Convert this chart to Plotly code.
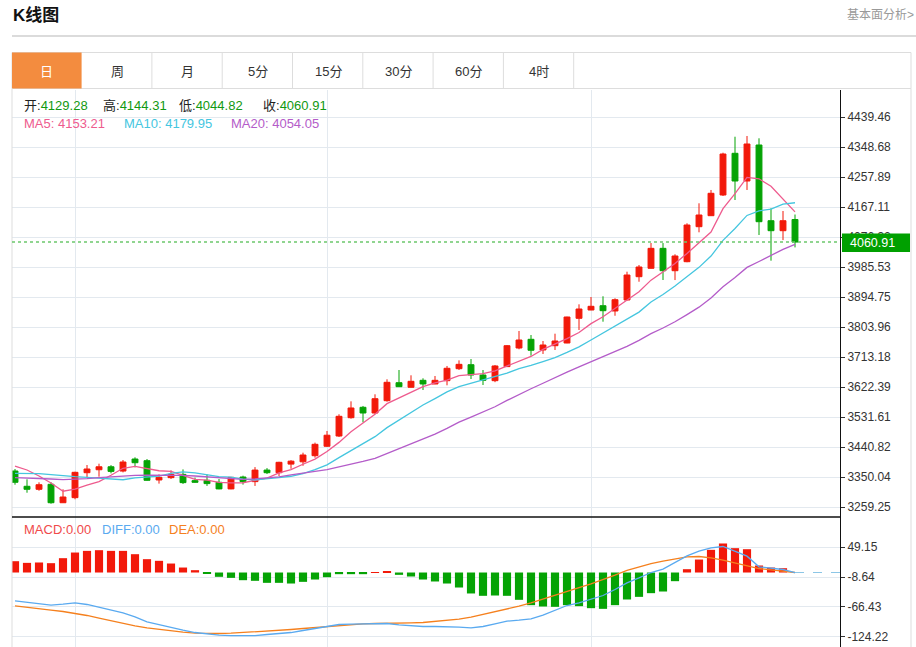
import plotly.graph_objects as go
import pandas as pd

W, H = 916, 647

# ---------------- data ----------------
days = list(range(66))
opens = [3368.2, 3321.9, 3312.8, 3327.9, 3272.2, 3287.5, 3363.0, 3372.0, 3381.0, 3368.0,
         3404.4, 3399.4, 3341.0, 3348.0, 3358.0, 3339.0, 3340.0, 3334.0, 3314.0, 3350.0,
         3336.0, 3371.0, 3363.0, 3389.0, 3396.0, 3414.5, 3443.0, 3474.0, 3529.5, 3561.0,
         3543.7, 3581.0, 3635.4, 3621.5, 3642.6, 3631.5, 3641.5, 3677.8, 3689.9, 3658.7,
         3641.5, 3684.0, 3740.4, 3766.7, 3734.4, 3747.4, 3755.5, 3830.3, 3855.4, 3868.4,
         3852.4, 3885.7, 3956.2, 3981.6, 4042.0, 3974.3, 4001.6, 4107.5, 4140.8, 4203.4,
         4329.6, 4245.8, 4354.7, 4125.6, 4095.4, 4129.28]
highs = [3374.2, 3343.0, 3334.0, 3334.0, 3312.8, 3366.0, 3386.3, 3390.3, 3386.0, 3401.4,
         3409.6, 3404.4, 3358.0, 3370.0, 3373.0, 3348.0, 3358.0, 3344.0, 3350.0, 3354.0,
         3380.0, 3377.0, 3396.0, 3401.0, 3423.6, 3454.0, 3489.3, 3539.8, 3579.0, 3565.0,
         3600.3, 3645.7, 3673.8, 3657.8, 3648.7, 3655.7, 3686.0, 3703.0, 3707.0, 3673.8,
         3689.0, 3749.5, 3791.9, 3779.7, 3761.6, 3783.7, 3835.0, 3872.6, 3894.7, 3896.9,
         3890.8, 3971.3, 3991.6, 4058.2, 4058.0, 4024.0, 4117.8, 4178.3, 4218.6, 4331.4,
         4379.8, 4382.0, 4375.0, 4163.2, 4155.0, 4144.31]
lows = [3326.7, 3302.5, 3308.5, 3269.2, 3272.0, 3282.7, 3349.0, 3351.0, 3361.0, 3364.0,
        3379.4, 3339.0, 3330.0, 3344.0, 3329.0, 3333.0, 3323.0, 3313.0, 3313.0, 3327.0,
        3323.0, 3359.0, 3353.0, 3375.0, 3384.0, 3408.5, 3441.0, 3471.0, 3526.5, 3515.6,
        3541.6, 3578.0, 3623.0, 3621.0, 3613.3, 3631.0, 3627.5, 3673.8, 3646.6, 3628.4,
        3637.0, 3684.0, 3736.5, 3717.1, 3722.3, 3734.4, 3755.0, 3794.9, 3855.0, 3820.0,
        3838.0, 3885.0, 3941.0, 3981.0, 3946.2, 3946.0, 4000.0, 4090.5, 4140.0, 4200.4,
        4188.3, 4218.6, 4082.4, 4004.6, 4067.0, 4044.82]
closes = [3334.0, 3312.8, 3326.7, 3272.2, 3289.5, 3364.2, 3374.2, 3381.0, 3367.0, 3395.4,
          3393.2, 3340.0, 3349.0, 3358.0, 3333.0, 3334.0, 3330.0, 3314.0, 3349.0, 3336.0,
          3371.0, 3363.0, 3394.5, 3398.0, 3416.6, 3449.0, 3476.5, 3533.7, 3558.9, 3543.7,
          3587.0, 3636.6, 3623.3, 3639.6, 3631.5, 3642.6, 3679.0, 3691.0, 3658.7, 3642.6,
          3686.0, 3747.4, 3764.6, 3733.5, 3749.5, 3761.6, 3834.2, 3858.4, 3866.6, 3853.3,
          3886.6, 3961.3, 3985.5, 4042.0, 3974.3, 4018.8, 4112.6, 4142.9, 4208.6, 4327.5,
          4245.8, 4357.8, 4122.6, 4095.4, 4125.6, 4060.91]

ma5_head = [3383.3, 3371.2, 3353.0, 3331.8]
ma10_head = [3361.2, 3361.2, 3360.2, 3357.0, 3353.0, 3351.0, 3349.0, 3346.0, 3343.0]
ma20_head = [3347.9, 3347.0, 3346.0, 3344.0, 3341.8, 3343.0, 3344.9, 3347.9, 3351.0, 3353.0,
             3355.1, 3356.0, 3356.0, 3356.0, 3355.1, 3353.0, 3350.0, 3348.0, 3346.0]

macd_hist = [21.8, 18.6, 19.3, 18.0, 27.6, 38.5, 41.7, 43.0, 41.7, 41.7,
             35.3, 25.7, 22.5, 17.3, 9.6, 4.5, -2.6, -8.3, -10.3, -14.8,
             -16.0, -19.9, -19.9, -21.2, -18.0, -13.5, -9.0, -3.2, -3.2, -3.2,
             0.6, 1.9, -4.5, -7.7, -13.5, -17.3, -21.2, -28.9, -40.4, -44.9,
             -44.3, -44.9, -52.6, -62.9, -65.5, -66.1, -62.9, -64.8, -68.7, -70.0,
             -62.9, -52.0, -46.9, -39.8, -36.6, -16.7, 6.4, 25.0, 43.7, 55.9,
             46.9, 44.9, 13.5, 9.6, 8.3, 0.0]
diff_line = [-54.6, -57.8, -60.4, -62.9, -61.0, -58.4, -61.6, -67.4, -72.6, -77.7,
             -85.4, -95.0, -100.2, -106.0, -111.1, -115.6, -118.8, -120.7, -121.4, -122.0,
             -121.4, -119.4, -117.5, -115.6, -111.7, -107.9, -103.4, -100.2, -99.5, -98.9,
             -97.6, -98.2, -100.8, -102.7, -104.0, -104.0, -104.0, -105.3, -106.6, -104.0,
             -98.9, -93.7, -91.8, -89.2, -82.2, -73.2, -63.6, -58.4, -52.0, -44.3,
             -32.7, -19.9, -10.3, 0.0, 6.4, 18.6, 32.1, 41.1, 47.5, 50.1,
             41.1, 31.5, 10.9, 7.7, 5.8, 0.0]
dea_line = [-64.2, -67.4, -70.0, -72.6, -75.1, -78.3, -82.8, -88.0, -93.1, -98.2,
            -102.7, -106.6, -109.8, -113.0, -114.9, -116.9, -117.5, -117.5, -116.9, -115.6,
            -114.9, -113.6, -111.7, -109.8, -107.9, -106.0, -103.4, -101.4, -100.2, -98.9,
            -98.2, -98.2, -97.6, -97.0, -96.3, -94.4, -92.5, -89.9, -86.0, -80.9,
            -75.8, -70.6, -64.8, -58.4, -51.4, -43.7, -36.6, -28.9, -21.8, -14.1,
            -5.1, 3.9, 10.9, 17.3, 21.8, 26.3, 30.2, 30.8, 28.3, 23.8,
            18.0, 12.2, 7.7, 5.1, 2.6, 0.0]

price_ticks = [4439.46, 4348.68, 4257.89, 4167.11, 4076.32, 3985.53, 3894.75,
               3803.96, 3713.18, 3622.39, 3531.61, 3440.82, 3350.04, 3259.25]
macd_ticks = [49.15, -8.64, -66.43, -124.22]
month_marks = [5, 26, 48]

tabs = ["日", "周", "月", "5分", "15分", "30分", "60分", "4时"]
ma_labels = ["4153.21", "4179.95", "4054.05"]
macd_labels = ["0.00", "0.00", "0.00"]

# ---------------- derived ----------------
s = pd.Series(closes)


def moving(n, head):
    vals = s.rolling(n).mean().tolist()
    vals[:len(head)] = head
    return vals


ma5 = moving(5, ma5_head)
ma10 = moving(10, ma10_head)
ma20 = moving(20, ma20_head)

# ---------------- styling ----------------
RED = "#f2190a"
GREEN = "#05a305"
C_MA5 = "#ee5b8e"
C_MA10 = "#45c6df"
C_MA20 = "#b45cc9"
C_DIFF = "#5aaaf0"
C_DEA = "#f5801e"
GRID = "#e3e9ef"
FONT = "Liberation Sans, Noto Sans CJK SC, sans-serif"


def px(X):
    return X / W


def py(Y):
    return 1 - Y / H


fig = go.Figure()
fig.add_trace(go.Candlestick(
    x=days, open=opens, high=highs, low=lows, close=closes,
    increasing=dict(line=dict(color=RED, width=1), fillcolor=RED),
    decreasing=dict(line=dict(color=GREEN, width=1), fillcolor=GREEN),
    whiskerwidth=0, hoverinfo="skip", xaxis="x", yaxis="y", showlegend=False))
for vals, col in [(ma5, C_MA5), (ma10, C_MA10), (ma20, C_MA20)]:
    fig.add_trace(go.Scatter(x=days, y=vals, mode="lines", line=dict(color=col, width=1.3),
                             hoverinfo="skip", xaxis="x", yaxis="y", showlegend=False))

fig.add_trace(go.Bar(x=days, y=macd_hist, width=0.68,
                     marker=dict(color=[RED if v >= 0 else GREEN for v in macd_hist], line=dict(width=0)),
                     hoverinfo="skip", xaxis="x2", yaxis="y2", showlegend=False))
fig.add_trace(go.Scatter(x=days, y=dea_line, mode="lines", line=dict(color=C_DEA, width=1.3),
                         hoverinfo="skip", xaxis="x2", yaxis="y2", showlegend=False))
fig.add_trace(go.Scatter(x=days, y=diff_line, mode="lines", line=dict(color=C_DIFF, width=1.3),
                         hoverinfo="skip", xaxis="x2", yaxis="y2", showlegend=False))

xdom = [px(12), px(840)]
xcommon = dict(domain=xdom, range=[-0.25, 68.75], showgrid=True, gridcolor=GRID, gridwidth=1,
               tickvals=month_marks, showticklabels=False, ticks="", zeroline=False,
               showline=False, fixedrange=True)
ycommon = dict(side="right", showgrid=True, gridcolor=GRID, gridwidth=1, showline=True,
               linecolor="#111111", linewidth=1, ticks="outside", ticklen=4, tickcolor="#333333",
               tickfont=dict(size=12, color="#333333", family=FONT), zeroline=False, fixedrange=True)

fig.update_layout(
    width=W, height=H,
    margin=dict(l=0, r=0, t=0, b=0, pad=0),
    paper_bgcolor="white", plot_bgcolor="white",
    font=dict(family=FONT),
    boxgap=0.3,
    xaxis=dict(**xcommon, anchor="y", rangeslider=dict(visible=False)),
    xaxis2=dict(**xcommon, anchor="y2", matches="x"),
    yaxis=dict(**ycommon, anchor="x", domain=[py(517), py(90)], range=[3228.98, 4521.17],
               tickvals=price_ticks, ticktext=[f"{v:.2f}" for v in price_ticks]),
    yaxis2=dict(**ycommon, anchor="x2", domain=[0, py(517)], range=[-143.5, 106.94],
                tickvals=macd_ticks, ticktext=[f"{v:.2f}" for v in macd_ticks]),
)

shapes = []
# title underline
shapes.append(dict(type="line", xref="paper", yref="paper", x0=px(12), x1=px(916), y0=py(36), y1=py(36),
                   line=dict(color="#cfcfcf", width=1.5)))
# tab bar
shapes.append(dict(type="rect", xref="paper", yref="paper", x0=px(12), x1=px(911), y0=py(88.5), y1=py(52.5),
                   line=dict(color="#dddddd", width=1)))
shapes.append(dict(type="rect", xref="paper", yref="paper", x0=px(12), x1=px(81.6), y0=py(88.5), y1=py(52.5),
                   fillcolor="#f38c3f", line=dict(width=0)))
for k in range(1, len(tabs)):
    xs = 81.6 + 70.3 * (k - 1) + 70.3
    shapes.append(dict(type="line", xref="paper", yref="paper", x0=px(xs), x1=px(xs), y0=py(88.5), y1=py(52.5),
                       line=dict(color="#dddddd", width=1)))
# chart frame
for xs in (12, 911):
    shapes.append(dict(type="line", xref="paper", yref="paper", x0=px(xs), x1=px(xs), y0=0, y1=py(88.5),
                       line=dict(color="#dddddd", width=1)))
# panel separator
shapes.append(dict(type="line", xref="paper", yref="paper", x0=px(12), x1=px(840), y0=py(517), y1=py(517),
                   line=dict(color="#111111", width=1.3)))
# last price dotted line and tag
last = closes[-1]
shapes.append(dict(type="line", xref="paper", yref="y", x0=px(12), x1=px(840), y0=last, y1=last,
                   line=dict(color="#6cc86c", width=1.5, dash="dot"), layer="above"))
shapes.append(dict(type="rect", xref="paper", yref="paper", x0=px(842), x1=px(910), y0=py(252), y1=py(233.5),
                   fillcolor="#00a000", line=dict(width=0), layer="above"))
# MACD current-value dashed line
shapes.append(dict(type="line", xref="x2", yref="y2", x0=days[-1], x1=68.75, y0=0, y1=0,
                   line=dict(color="#8cc6e6", width=1.2, dash="dash"), layer="above"))
fig.update_layout(shapes=shapes)

ann = []


def text(X, Y, t, size=13, color="#333333", anchor="left"):
    ann.append(dict(xref="paper", yref="paper", x=px(X), y=py(Y), text=t, showarrow=False,
                    xanchor=anchor, yanchor="middle", font=dict(size=size, color=color, family=FONT)))


text(11, 15.5, "<b>K线图</b>", size=17, color="#111111")
text(916, 15, "基本面分析>", size=12, color="#999999", anchor="right")
for k, t in enumerate(tabs):
    cx = 46.8 + 70.3 * k
    text(cx, 71, t, size=13, color="white" if k == 0 else "#333333", anchor="center")

VAL = "#119911"
ohlc_names = ["开", "高", "低", "收"]
ohlc_vals = [opens[-1], highs[-1], lows[-1], closes[-1]]
for X, nm, v in zip([22, 101, 177, 261], ohlc_names, ohlc_vals):
    text(X, 105, f"{nm}:<span style='color:{VAL}'>{v:.2f}</span>", size=13, color="#222222")
for X, nm, v, col in zip([22, 122, 229], ["MA5", "MA10", "MA20"], ma_labels, [C_MA5, C_MA10, C_MA20]):
    text(X, 123.5, f"{nm}: {v}", size=13, color=col)
for X, nm, v, col in zip([22, 100, 167], ["MACD", "DIFF", "DEA"], macd_labels, ["#f04a4a", C_DIFF, C_DEA]):
    text(X, 529, f"{nm}:{v}", size=13, color=col)
text(848, 243, f"{last:.2f}", size=12.5, color="white")
fig.update_layout(annotations=ann)

fig.write_html("out.html", config={"displayModeBar": False},
               post_script="document.body.style.margin='0';")
